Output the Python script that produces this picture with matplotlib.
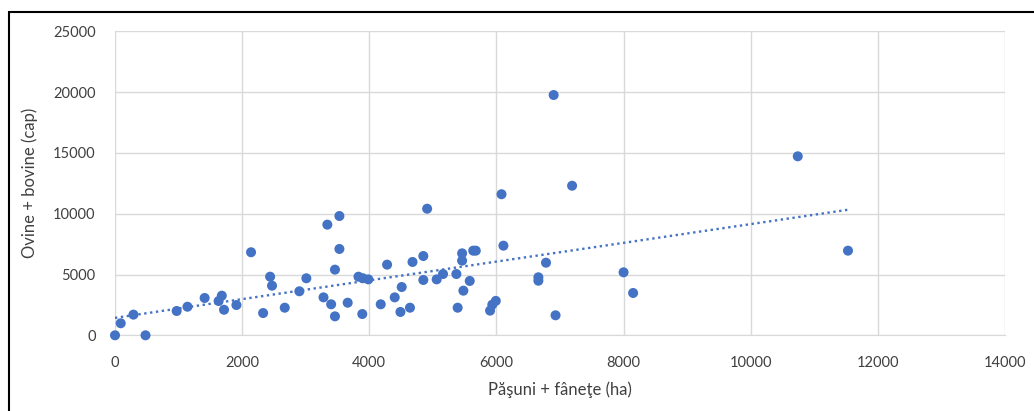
import matplotlib.pyplot as plt
import numpy as np
from matplotlib.patches import Rectangle

# Data
pasuni_ha = [0, 90, 290, 480, 970, 1140, 1410, 1630, 1680, 1715, 1910,
             2140, 2330, 2440, 2470, 2670, 2900, 3010, 3280, 3340, 3400,
             3460, 3460, 3530, 3530, 3660, 3830, 3900, 3985, 3890, 4180,
             4280, 4400, 4490, 4510, 4640, 4680, 4850, 4850, 4910, 5060,
             5160, 5370, 5390, 5460, 5460, 5480, 5580, 5635, 5675, 5900,
             5935, 5990, 6080, 6110, 6660, 6660, 6780, 6900, 6930, 7190,
             8000, 8150, 10740, 11530]
ovine_bovine = [0, 990, 1700, 0, 2000, 2350, 3070, 2820, 3260, 2100, 2490,
                6830, 1830, 4820, 4080, 2270, 3620, 4690, 3120, 9100, 2550,
                5400, 1560, 9810, 7100, 2680, 4820, 4690, 4600, 1750, 2550,
                5810, 3120, 1920, 3970, 2270, 6030, 6520, 4550, 10410, 4600,
                5040, 5040, 2270, 6740, 6140, 3670, 4470, 6960, 6960, 2030,
                2520, 2830, 11600, 7370, 4770, 4490, 5970, 19760, 1645, 12300,
                5180, 3480, 14720, 6960]

x_ticks = [0, 2000, 4000, 6000, 8000, 10000, 12000, 14000]
y_ticks = [0, 5000, 10000, 15000, 20000, 25000]

plt.rcParams['font.family'] = ['Lato', 'DejaVu Sans']

blue = '#4472C4'
grey_text = '#404040'
grid_col = '#D9D9D9'

fig = plt.figure(figsize=(10.34, 4.11), dpi=100)
ax = fig.add_axes([115/1034, 1 - 335.3/411, 890/1034, 304/411])

x = np.array(pasuni_ha)
y = np.array(ovine_bovine)

# Linear trendline
slope, intercept = np.polyfit(x, y, 1)
xs = np.array([0, x.max()])
ax.plot(xs, slope * xs + intercept, color=blue, lw=1.7,
        linestyle=(0, (1, 1.5)), zorder=2)

ax.scatter(x, y, s=52, color=blue, edgecolors='none', zorder=3, clip_on=False)

ax.set_xlim(0, 14000)
ax.set_ylim(0, 25000)
ax.set_xticks(x_ticks)
ax.set_yticks(y_ticks)
ax.grid(True, color=grid_col, lw=1)
ax.set_axisbelow(True)
for s in ax.spines.values():
    s.set_visible(False)
ax.spines['bottom'].set_visible(True)
ax.spines['bottom'].set_color(grid_col)
ax.tick_params(length=0, labelsize=10.5, colors=grey_text)
ax.tick_params(axis='y', pad=14)
ax.tick_params(axis='x', pad=15)

ax.set_xlabel('Păşuni + fâneţe (ha)', fontsize=12, color=grey_text, labelpad=8)
ax.set_ylabel('Ovine + bovine (cap)', fontsize=12, color=grey_text, labelpad=11)

# Chart frame, cropped on the right and bottom
fig.patches.append(Rectangle((9/1034, -0.1), 1.1, 1 - 12/411 + 0.1,
                             transform=fig.transFigure, fill=False,
                             edgecolor='black', lw=1.5))

fig.savefig('out.png', dpi=100)
